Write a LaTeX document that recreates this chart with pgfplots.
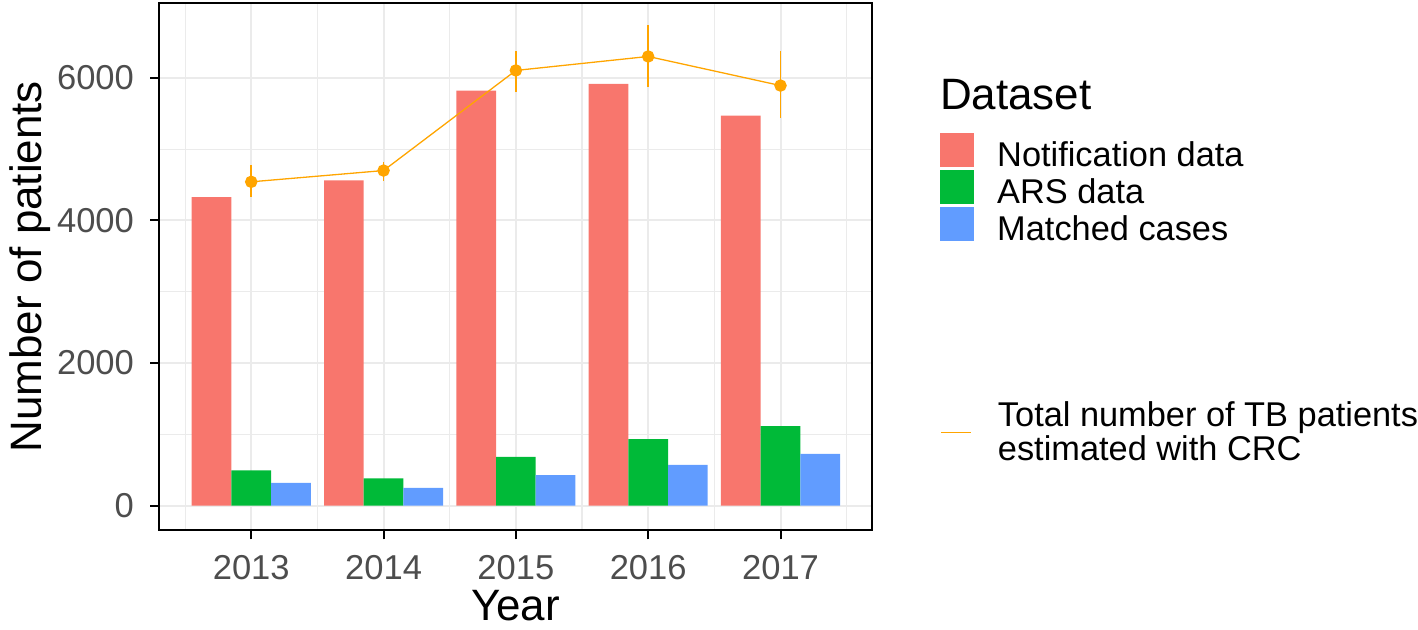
\documentclass[border=0pt]{standalone}
\usepackage{fontspec}
\setmainfont{Liberation Sans}
\usepackage{pgfplots}
\pgfplotsset{compat=1.18}
\definecolor{cNotif}{HTML}{F8766D}
\definecolor{cARS}{HTML}{00BA38}
\definecolor{cMatch}{HTML}{619CFF}
\definecolor{cCRC}{HTML}{FFA500}
\definecolor{gridgray}{HTML}{EBEBEB}
\definecolor{ticktext}{HTML}{4D4D4D}

\begin{document}
\begin{tikzpicture}
\begin{axis}[
  name=main, clip=false,
  scale only axis, width=356.75pt, height=264pt,
  xmin=0.305, xmax=5.69, ymin=-345, ymax=7050,
  xtick={1,...,5}, xticklabels={2013,2014,2015,2016,2017},
  ytick={0,2000,4000,6000},
  minor xtick={0.5,1.5,...,5.5}, minor ytick={1000,3000,5000},
  grid=both,
  major grid style={gridgray, line width=1pt},
  minor grid style={gridgray, line width=0.55pt},
  tick align=outside, xtick pos=bottom, ytick pos=left,
  major tick length=4.5pt, minor tick length=0pt,
  major tick style={black, line width=1pt},
  axis line style={black, line width=1pt},
  /pgf/number format/assume math mode=true,
  /pgf/number format/1000 sep={},
  tick label style={font=\fontsize{17.3}{20}\selectfont, text=ticktext, inner sep=0pt},
  yticklabel style={xshift=-8pt},
  xticklabel style={yshift=-8pt},
  xlabel={Year}, ylabel={Number of patients},
  label style={font=\fontsize{22}{26}\selectfont, inner sep=0pt},
  xlabel style={at={(axis description cs:0.5,-0.172)}, anchor=base},
  ylabel style={at={(axis description cs:-0.16468,0.5)}, anchor=base},
  legend style={at={(rel axis cs:1.0953,0.7538)}, anchor=north west,
    draw=none, fill=none, inner sep=0pt, outer sep=0pt,
    row sep=0pt, column sep=11.5pt,
    nodes={inner sep=0pt}, font=\fontsize{17.2}{20}\selectfont},
  legend cell align=left,
  legend style={cells={anchor=base west}},
  legend image code/.code={\fill[#1] (0pt,-0.2pt) rectangle (17.3pt,17pt);},
]
\addplot[ybar, bar width=0.3, bar shift=-0.3, fill=cNotif, draw=none]
  coordinates {(1,4326) (2,4561) (3,5822) (4,5916) (5,5472)};
\addplot[ybar, bar width=0.3, bar shift=0, fill=cARS, draw=none]
  coordinates {(1,495) (2,383) (3,683) (4,935) (5,1117)};
\addplot[ybar, bar width=0.3, bar shift=0.3, fill=cMatch, draw=none]
  coordinates {(1,318) (2,248) (3,430) (4,571) (5,725)};
\addplot[forget plot, cCRC, line width=0.65pt, mark=*, mark size=2.8pt,
  mark options={fill=cCRC, draw=cCRC},
  error bars/.cd, y dir=both, y explicit, error mark=none,
  error bar style={line width=0.85pt, cCRC}]
  coordinates {
    (1,4542) += (0,238) -= (0,210)
    (2,4700) += (0,120) -= (0,140)
    (3,6104) += (0,266) -= (0,296)
    (4,6300) += (0,443) -= (0,422)
    (5,5892) += (0,478) -= (0,457)
  };
\legend{Notification data, ARS data, Matched cases}
\node[anchor=base west, font=\fontsize{22}{26}\selectfont, inner sep=0pt]
  at (rel axis cs:1.0953,0.7973) {Dataset};
\end{axis}
\begin{axis}[
  hide axis, scale only axis, width=356.75pt, height=264pt,
  xmin=0, xmax=1, ymin=0, ymax=1,
  legend style={at={(rel axis cs:1.0967,0.2436)}, anchor=north west,
    draw=none, fill=none, inner sep=0pt, outer sep=0pt,
    column sep=13pt, nodes={inner sep=0pt},
    font=\fontsize{17.2}{15.5}\selectfont},
  legend cell align=left,
  legend style={cells={align=left}},
  legend image code/.code={\draw[#1] (0pt,0pt) -- (15pt,0pt);},
]
\addlegendimage{cCRC, line width=0.65pt}
\addlegendentry{Total number of TB patients\\estimated with CRC}
\end{axis}
\path (main.south west) ++(-79.75pt,-49.5pt) rectangle ++(709pt,315pt);
\end{tikzpicture}
\end{document}
